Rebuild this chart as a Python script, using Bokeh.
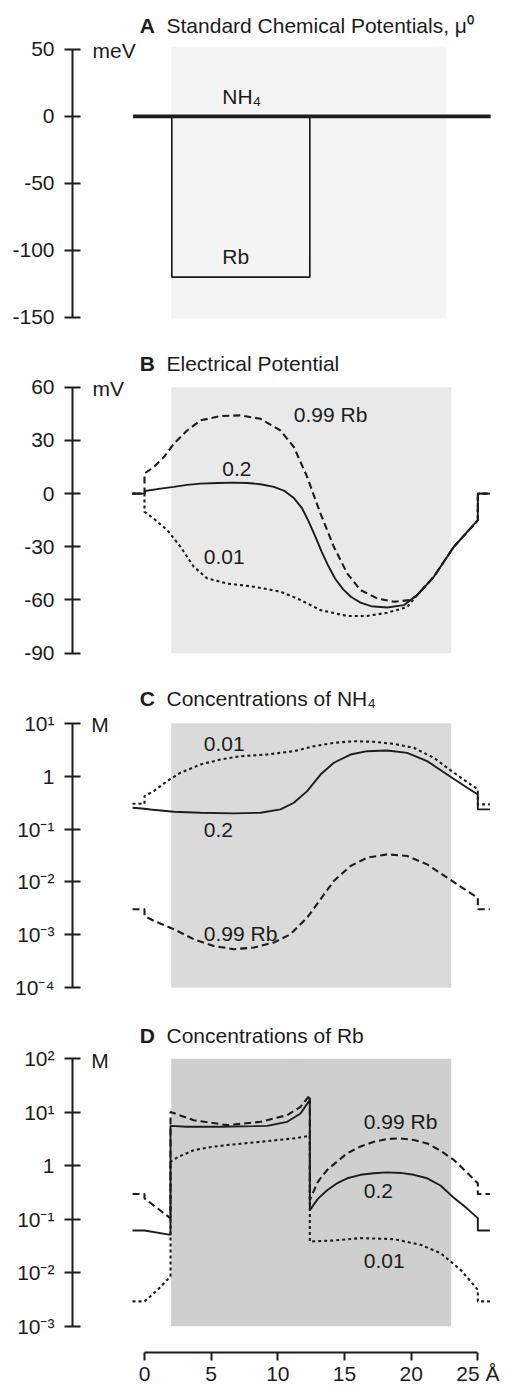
from bokeh.plotting import figure
from bokeh.layouts import column
from bokeh.models import Range1d, FixedTicker, CustomJSTickFormatter
from bokeh.core.properties import value
from bokeh.embed import file_html
from bokeh.resources import INLINE

FONT = "Liberation Sans"
FSIZE = "21px"
INK = "#1c1c1c"

# ---------------- data (x in Angstrom) ----------------
# Panel A: standard chemical potentials (meV)
a_nh4_x = [-0.85, 25.95]
a_nh4_y = [0, 0]
a_rb_x = [-0.85, 2.05, 2.05, 12.4, 12.4, 25.95]
a_rb_y = [0, 0, -120, -120, 0, 0]

# Panel B: electrical potential (mV)
b_020_x = [-0.9, 0, 0.05, 1.2, 2.2, 3.2, 4.2, 5.5, 6.7, 7.7, 8.7, 9.7, 10.5, 11.2, 11.8,
           12.3, 12.8, 13.3, 13.8, 14.3, 14.9, 15.5, 16.2, 17.0, 18.2, 19.45, 20.45,
           21.7, 23.2, 25, 25, 25.9]
b_020_y = [0, 0, 1.5, 2.8, 3.8, 4.9, 5.6, 6.0, 6.2, 6.0, 5.3, 3.8, 1.5, -2.5, -8,
           -15.5, -24, -33, -41, -48, -54, -58.3, -61.5, -63.5, -64.2, -62.9, -57.2,
           -46.9, -30, -15, 0, 0]
b_099_x = [-0.9, 0, 0, 0.7, 1.45, 2.2, 3.2, 4.2, 5.7, 7.2, 8.7, 10.2, 11.2, 12.2,
           13.2, 14.2, 15.2, 16.2, 17.45, 18.7, 19.95, 20.45, 21.7, 23.2, 25, 25, 25.9]
b_099_y = [0, 0, 11.3, 15, 20.6, 28.1, 35.6, 41.3, 43.7, 44.1, 42.2, 35.6, 26.3, 9.4,
           -11.3, -30, -45, -54.4, -59.1, -61, -60, -57.2, -46.9, -30, -15, 0, 0]
b_001_x = [-0.9, 0, 0, 0.7, 1.7, 2.7, 3.7, 4.7, 6.2, 8.2, 10.2, 11.7, 13.2, 15.2,
           16.7, 18.2, 19.7, 20.45, 21.7, 23.2, 25, 25, 25.9]
b_001_y = [0, 0, -10.3, -14.1, -20.6, -30, -41.3, -47.8, -50.7, -52.5, -55.3, -60,
           -65.7, -69, -69, -67.2, -64, -57.2, -46.9, -30, -15, 0, 0]

# Panel C: NH4 concentrations (M)
c_020_x = [-0.9, 0, 0.45, 2.2, 4.2, 6.7, 8.7, 10.2, 11.2, 12.2, 13.2, 14.2, 15.45,
           16.7, 18.2, 19.7, 21.2, 22.7, 24.2, 25, 25, 25.9]
c_020_y = [0.253, 0.242, 0.234, 0.212, 0.203, 0.198, 0.203, 0.235, 0.314, 0.521, 1.07,
           1.79, 2.56, 2.96, 3.05, 2.75, 1.92, 1.07, 0.603, 0.451, 0.235, 0.235]
c_001_x = [-0.9, 0, 0, 0.7, 1.7, 2.7, 4.2, 5.7, 7.2, 9.2, 11.2, 12.7, 14.2, 15.7,
           17.2, 18.7, 20.2, 21.7, 23.2, 25, 25, 25.9]
c_001_y = [0.301, 0.301, 0.42, 0.521, 0.805, 1.16, 1.66, 2.06, 2.38, 2.56, 2.96, 3.68,
           4.26, 4.57, 4.45, 4.07, 3.43, 2.22, 1.16, 0.56, 0.292, 0.292]
c_099_x = [-0.9, 0, 0, 0.7, 2.2, 3.7, 5.2, 6.7, 8.2, 9.7, 10.95, 12.2, 13.2, 14.2,
           15.45, 16.7, 18.2, 19.7, 21.2, 22.7, 24.2, 25, 25, 25.9]
c_099_y = [0.00305, 0.00305, 0.00228, 0.00184, 0.00128, 0.000828, 0.000619, 0.000537,
           0.000577, 0.000716, 0.00103, 0.00212, 0.00471, 0.01045, 0.02004, 0.02877,
           0.03327, 0.03097, 0.02153, 0.01208, 0.00676, 0.00506, 0.00305, 0.00305]

# Panel D: Rb concentrations (M)
d_020_x = [-0.9, 0, 1.95, 1.95, 3.2, 5.7, 8.2, 9.2, 10.7, 11.7, 12.4, 12.4, 13.0,
           13.7, 14.5, 15.2, 16.2, 17.2, 18.2, 19.2, 20.2, 21.2, 22.2, 23.2, 24.2, 25, 25, 25.9]
d_020_y = [0.0615, 0.0615, 0.051, 5.56, 5.33, 5.33, 5.48, 5.56, 6.61, 9.44, 17.0, 0.148,
           0.24, 0.347, 0.479, 0.582, 0.676, 0.724, 0.75, 0.733, 0.676, 0.582, 0.427,
           0.251, 0.158, 0.105, 0.0615, 0.0615]
d_099_x = [-0.9, 0, 0, 1.95, 1.95, 3.7, 6.2, 8.7, 10.7, 11.7, 12.4, 12.4, 13.0, 13.7,
           14.5, 15.2, 16.2, 17.2, 18.2, 19.2, 20.2, 21.2, 22.2, 23.2, 24.2, 25, 25, 25.9]
d_099_y = [0.296, 0.296, 0.246, 0.104, 10.1, 7.08, 5.73, 6.61, 8.79, 12.6, 20.9, 0.229,
           0.501, 0.832, 1.23, 1.70, 2.29, 2.80, 3.16, 3.24, 3.02, 2.61, 1.91, 1.28,
           0.741, 0.468, 0.296, 0.296]
d_001_x = [-0.9, 0, 1.0, 1.95, 1.95, 2.5, 3.7, 5.0, 6.2, 8.7, 11.2, 12.4, 12.4, 14.2,
           16.2, 18.7, 20.7, 22.2, 23.7, 25, 25, 25.9]
d_001_y = [0.00292, 0.00292, 0.00482, 0.00855, 1.19, 1.45, 1.95, 2.24, 2.43, 2.80, 3.24,
           3.63, 0.0384, 0.0401, 0.0444, 0.0425, 0.0333, 0.0233, 0.0114, 0.00482,
           0.00292, 0.00292]

# shaded (channel) region, Angstrom
shade_x = [2.0, 23.0]

# tick values
x_ticks = [0, 5, 10, 15, 20, 25]
a_ticks = [-150, -100, -50, 0, 50]
b_ticks = [-90, -60, -30, 0, 30, 60]
c_ticks = [1e-4, 1e-3, 1e-2, 1e-1, 1, 10]
d_ticks = [1e-3, 1e-2, 1e-1, 1, 10, 100]

# ---------------- helpers ----------------
X0, X1 = -5.4, 27.375
LOGFMT = """
const e = Math.round(Math.log10(tick));
if (e === 0) { return "1"; }
const sup = {"-": "⁻", "0": "⁰", "1": "¹", "2": "²", "3": "³", "4": "⁴"};
return "10" + String(e).split("").map(c => sup[c]).join("");
"""
LINFMT = "return tick.toFixed(0);"


def make_fig(height, yr, ytype, ticks, bottom=0, xaxis=False):
    p = figure(width=509, height=height, x_range=Range1d(X0, X1), y_range=yr,
               y_axis_type=ytype, output_backend="svg", toolbar_location=None,
               x_axis_location="below" if xaxis else None,
               min_border_left=72, min_border_right=0, min_border_top=0,
               min_border_bottom=bottom)
    p.outline_line_color = None
    p.grid.visible = False
    p.background_fill_color = "white"
    p.border_fill_color = "white"
    ax = p.yaxis[0]
    ax.bounds = (ticks[0], ticks[-1])
    ax.ticker = FixedTicker(ticks=ticks)
    ax.formatter = CustomJSTickFormatter(code=LOGFMT if ytype == "log" else LINFMT)
    ax.major_tick_in = 8
    ax.major_tick_out = 8
    ax.minor_tick_line_color = None
    ax.axis_line_width = 2
    ax.axis_line_color = INK
    ax.major_tick_line_width = 2
    ax.major_tick_line_color = INK
    ax.major_label_text_font = FONT
    ax.major_label_text_font_size = FSIZE
    ax.major_label_text_color = INK
    ax.major_label_standoff = 10
    return p


def txt(p, x, y, s, style="normal"):
    p.text(x=[x], y=[y], text=[s], text_font=value(FONT), text_font_size=FSIZE,
           text_font_style=style, text_color=INK, text_align="left",
           text_baseline="alphabetic", y_offset=-7)


def shade(p, bottom, top, color, right=None):
    p.quad(left=[shade_x[0]], right=[right if right else shade_x[1]], bottom=[bottom],
           top=[top], fill_color=color, line_color=None, level="underlay")


def title(p, letter, rest, y):
    txt(p, -0.35, y, letter, style="bold")
    txt(p, 1.65, y, rest)


SOLID = dict(line_color=INK, line_width=1.9)
DASH = dict(line_color=INK, line_width=2.1, line_dash="7 4")
DOT = dict(line_color=INK, line_width=2.1, line_dash="3 3")

# ---------------- Panel A ----------------
pa = make_fig(340, Range1d(-167.4, 86.59), "linear", a_ticks)
shade(pa, -151, 52, "#f4f4f4", right=22.6)
pa.line(a_rb_x, a_rb_y, line_color=INK, line_width=1.7)
pa.line(a_nh4_x, a_nh4_y, line_color=INK, line_width=3.6)
title(pa, "A", "Standard Chemical Potentials, μ⁰", 62.9)
txt(pa, -3.9, 43.9, "meV")
txt(pa, 5.83, 9.4, "NH₄")
txt(pa, 5.83, -110.1, "Rb")

# ---------------- Panel B ----------------
pb = make_fig(340, Range1d(-105.4, 86.34), "linear", b_ticks)
shade(pb, -90, 60, "#e9e9e9")
pb.line(b_001_x, b_001_y, **DOT)
pb.line(b_099_x, b_099_y, **DASH)
pb.line(b_020_x, b_020_y, **SOLID)
title(pb, "B", "Electrical Potential", 69.4)
txt(pb, -3.9, 55.4, "mV")
txt(pb, 11.2, 40.4, "0.99 Rb")
txt(pb, 5.83, 9.9, "0.2")
txt(pb, 4.45, -39.9, "0.01")

# ---------------- Panel C ----------------
pc = make_fig(335, Range1d(10 ** -4.523, 10 ** 1.807), "log", c_ticks)
shade(pc, 1e-4, 10, "#dadada")
pc.line(c_001_x, c_001_y, **DOT)
pc.line(c_099_x, c_099_y, **DASH)
pc.line(c_020_x, c_020_y, **SOLID)
title(pc, "C", "Concentrations of NH₄", 21.6)
txt(pc, -4.0, 7.0, "M")
txt(pc, 4.45, 2.97, "0.01")
txt(pc, 4.45, 0.0703, "0.2")
txt(pc, 4.45, 0.000783, "0.99 Rb")

# ---------------- Panel D ----------------
pd_ = make_fig(372, Range1d(10 ** -3.49, 10 ** 2.8066), "log", d_ticks, bottom=34, xaxis=True)
shade(pd_, 1e-3, 100, "#cfcfcf")
pd_.line(d_001_x, d_001_y, **DOT)
pd_.line(d_099_x, d_099_y, **DASH)
pd_.line(d_020_x, d_020_y, **SOLID)
title(pd_, "D", "Concentrations of Rb", 201)
txt(pd_, -4.0, 69.8, "M")
txt(pd_, 16.45, 4.98, "0.99 Rb")
txt(pd_, 16.45, 0.247, "0.2")
txt(pd_, 16.45, 0.0123, "0.01")

xa = pd_.xaxis[0]
xa.bounds = (0, 25)
xa.ticker = FixedTicker(ticks=x_ticks)
xa.formatter = CustomJSTickFormatter(code="return tick == 25 ? '25 Å' : tick.toFixed(0);")
xa.major_tick_in = 0
xa.major_tick_out = 8
xa.minor_tick_line_color = None
xa.axis_line_width = 2
xa.axis_line_color = INK
xa.major_tick_line_width = 2
xa.major_tick_line_color = INK
xa.major_label_text_font = FONT
xa.major_label_text_font_size = FSIZE
xa.major_label_text_color = INK
xa.major_label_standoff = 1

layout = column(pa, pb, pc, pd_, spacing=0)
open("out.html", "w").write(file_html(layout, INLINE))
